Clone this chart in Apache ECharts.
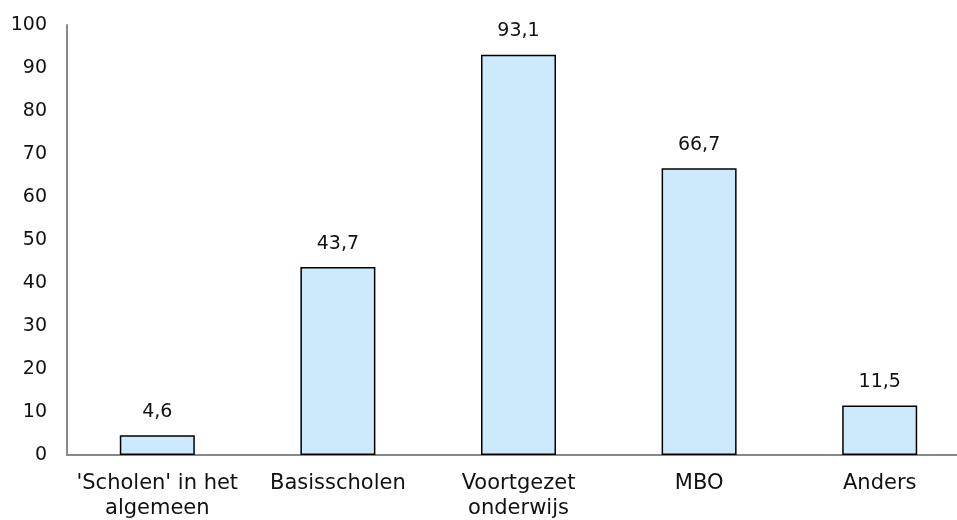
<!DOCTYPE html>
<html><head><meta charset="utf-8">
<script src="https://cdn.jsdelivr.net/npm/echarts@6/dist/echarts.min.js"></script>
<style>html,body{margin:0;padding:0;background:#fff}#c{width:957px;height:520px}</style>
</head><body><div id="c"></div>
<script>
const categories = ["'Scholen' in het\nalgemeen", "Basisscholen", "Voortgezet\nonderwijs", "MBO", "Anders"];
const values = [4.6, 43.7, 93.1, 66.7, 11.5];
const yTicks = [0, 10, 20, 30, 40, 50, 60, 70, 80, 90, 100];
const font = "'DejaVu Sans', sans-serif";
const chart = echarts.init(document.getElementById('c'));
chart.setOption({
  animation: false,
  grid: {left: 67, width: 903, top: 25, bottom: 65, containLabel: false, outerBoundsMode: 'none'},
  xAxis: {
    type: 'category', data: categories,
    axisLine: {lineStyle: {color: '#888', width: 2}},
    axisTick: {show: false},
    axisLabel: {color: '#111', fontSize: 21, fontFamily: font, margin: 16, lineHeight: 25, interval: 0}
  },
  yAxis: {
    type: 'value', min: yTicks[0], max: yTicks[yTicks.length - 1], interval: 10,
    axisLine: {show: true, lineStyle: {color: '#888', width: 2}},
    axisTick: {show: false},
    splitLine: {show: false},
    axisLabel: {color: '#111', fontSize: 19, fontFamily: font, margin: 20}
  },
  series: [{
    type: 'bar', data: values, barWidth: 75,
    itemStyle: {color: '#cdeafd', borderColor: '#000', borderWidth: 1.5},
    label: {show: true, position: 'top', distance: 14, color: '#111', fontSize: 19, fontFamily: font,
      formatter: p => p.value.toFixed(1).replace('.', ',')}
  }]
});
</script></body></html>
